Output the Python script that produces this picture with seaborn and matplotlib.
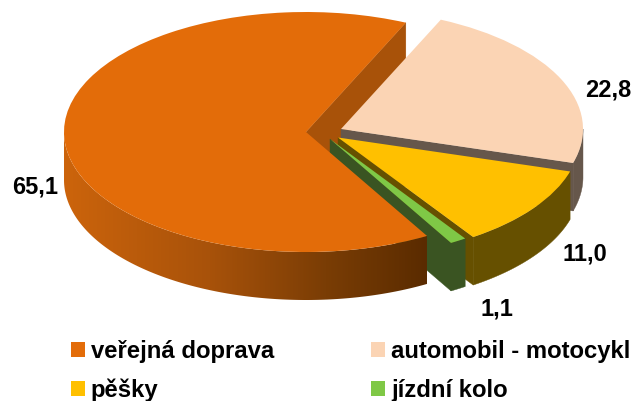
import numpy as np
import matplotlib
matplotlib.use("Agg")
import matplotlib.pyplot as plt
import seaborn as sns
from matplotlib.colors import LinearSegmentedColormap
from matplotlib.patches import Polygon

categories = ["veřejná doprava", "automobil - motocykl", "pěšky", "jízdní kolo"]
values = [65.1, 22.8, 11.0, 1.1]
value_labels = ["65,1", "22,8", "11,0", "1,1"]

top_colors = ["#E36C09", "#FBD4B4", "#FFC000", "#7FC846"]
side_colors = ["#A85209", "#66574B", "#665000", "#3A5422"]

sns.set_theme(style="white")
plt.rcParams["font.family"] = ["Liberation Sans", "DejaVu Sans"]

W, H = 635, 401
RX, RY = 242.0, 120.0   # pie radii in pixels, the tilt comes from the axis scales
DEPTH = 48 / RY


def dx(px):
    return px / RX


def dy(py):
    return (H - py) / RY


# each slice sits on its own centre, in pixels
centers = [(dx(306), dy(132)), (dx(341), dy(129)), (dx(338), dy(137.5)), (dx(330), dy(139))]
label_pos = [(35, 187), (608, 90), (585, 254), (497, 309)]

fig = plt.figure(figsize=(W / 100, H / 100), dpi=100)
ax = fig.add_axes([0, 0, 1, 1])

wedges, _ = ax.pie(values, startangle=300, counterclock=False, colors=top_colors,
                   wedgeprops={"linewidth": 0})
ax.set_aspect("auto")

bounds = 300 - np.concatenate([[0], np.cumsum(values)]) * 3.6


def arc_wall(center, a0, a1):
    t = np.radians(np.linspace(a0, a1, 160))
    x = center[0] + np.cos(t)
    y = center[1] + np.sin(t)
    return np.column_stack([np.r_[x, x[::-1]], np.r_[y, y[::-1] - DEPTH]])


def radial_face(center, angle):
    t = np.radians(angle)
    x, y = center[0] + np.cos(t), center[1] + np.sin(t)
    return np.array([center, (x, y), (x, y - DEPTH), (center[0], center[1] - DEPTH)])


def add_side(pts, color, z):
    ax.add_patch(Polygon(pts, closed=True, facecolor=color, edgecolor=color, linewidth=0.3, zorder=z))


# back to front: orange cut face, peach, yellow, green, then the big orange slice
add_side(radial_face(centers[0], bounds[1]), side_colors[0], 1)

add_side(radial_face(centers[1], bounds[2]), side_colors[1], 2)
add_side(arc_wall(centers[1], bounds[2], 0), side_colors[1], 2)
wedges[1].set_zorder(3)

add_side(radial_face(centers[2], bounds[3]), side_colors[2], 4)
add_side(arc_wall(centers[2], bounds[3], bounds[2]), side_colors[2], 4)
wedges[2].set_zorder(5)

add_side(radial_face(centers[3], bounds[4]), side_colors[3], 6)
add_side(arc_wall(centers[3], bounds[4], bounds[3]), side_colors[3], 6)
wedges[3].set_zorder(7)

# orange outer wall has a left to right shading
cmap = LinearSegmentedColormap.from_list(
    "wall", [(0, "#CC640C"), (0.4, "#A8520A"), (0.72, "#7A3D05"), (1, "#5A2B00")])
wall = Polygon(arc_wall(centers[0], 180, bounds[0]), closed=True, transform=ax.transData)
x0, x1 = centers[0][0] - 1, centers[0][0] + np.cos(np.radians(bounds[0]))
y1 = centers[0][1]
im = ax.imshow(np.linspace(0, 1, 256)[None, :], cmap=cmap, aspect="auto",
               extent=(x0, x1, y1 - 1 - DEPTH, y1), zorder=8)
im.set_clip_path(wall)
wedges[0].set_zorder(9)

for w, c in zip(wedges, centers):
    w.set_center(c)

for (px, py), txt in zip(label_pos, value_labels):
    ax.text(dx(px), dy(py), txt, ha="center", va="center", fontsize=17,
            fontweight="bold", color="black", zorder=10)

order = [0, 2, 1, 3]
ax.legend([wedges[i] for i in order], [categories[i] for i in order], ncol=2, frameon=False,
          loc="lower left", bbox_to_anchor=(71 / W, -1 / H), borderpad=0, borderaxespad=0,
          prop={"size": 17.2, "weight": "bold"}, handlelength=0.585, handleheight=0.585,
          handletextpad=0.25, columnspacing=4.05, labelspacing=0.645, labelcolor="black")

ax.set_xlim(0, W / RX)
ax.set_ylim(0, H / RY)
ax.axis("off")
fig.savefig("out.png", dpi=100)
